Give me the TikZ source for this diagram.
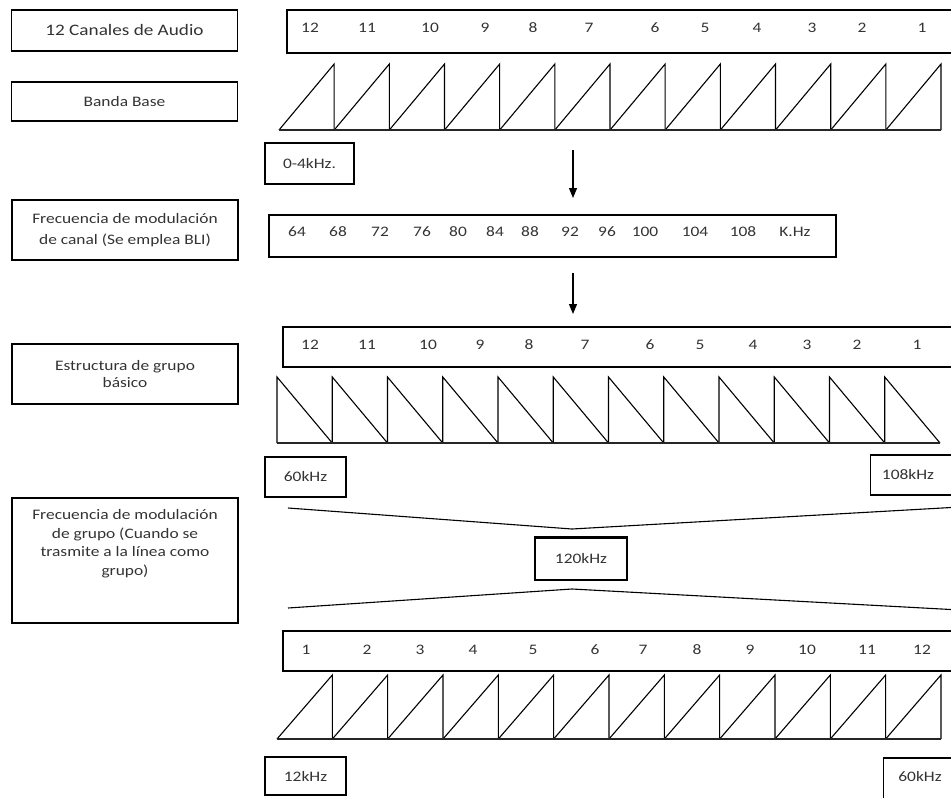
\documentclass[tikz,border=0pt]{standalone}
\usepackage{fontspec}
\setmainfont{Carlito}[FakeStretch=1.2]
\usetikzlibrary{arrows.meta, positioning, calc}

\begin{document}
\begin{tikzpicture}[x=1pt, y=-1pt,
    lbl/.style={draw, line width=1.2pt, minimum width=226pt, inner sep=2pt,
                align=center, font=\fontsize{14.5}{18.5}\selectfont, text=black!80},
    lbltxt/.style={align=center, font=\fontsize{14.5}{18.5}\selectfont, text=black!80},
    band/.style={draw, line width=1.2pt, inner sep=0pt},
    num/.style={font=\fontsize{14.5}{17}\selectfont, text=black!80, inner sep=1pt},
    fbox/.style={draw, line width=1.2pt, inner sep=2pt,
                 font=\fontsize{14.5}{17}\selectfont, text=black!80},
    tooth/.style={line width=1.1pt, line join=miter},
    base/.style={line width=1.5pt, black!85},
    flecha/.style={-{Triangle[length=10pt,width=8pt]}, line width=1.2pt},
    guia/.style={line width=1.1pt}
  ]
    \useasboundingbox (0,0) rectangle (951,798);
    \clip (0,0) rectangle (951,798);

    % left column
    \node[lbl, minimum height=41pt, font=\fontsize{16}{19}\selectfont] (audio) at (124.5,30.5) {12 Canales de Audio};
    \node[lbl, minimum height=39pt] (banda) at (124.5,101.5) {Banda Base};
    \node[lbl, minimum height=60pt, font=\fontsize{14.5}{21}\selectfont] (canal) at (125,230)
      {Frecuencia de modulación\\de canal (Se emplea BLI)};
    \node[lbl, minimum height=60pt, font=\fontsize{14.5}{17}\selectfont] (grupo) at (125,374)
      {Estructura de grupo\\básico};
    \node[lbl, minimum height=125pt] (modgrupo) at (125,560.5) {};
    \node[lbltxt] (modgrupotxt) at (125,543.5)
      {Frecuencia de modulación\\de grupo (Cuando se\\trasmite a la línea como\\grupo)};

    % band 1: audio channels
    \node[band, minimum width=683pt, minimum height=43pt] (canales) at (628.5,31.5) {};
    \foreach \n/\x in {12/310,11/367,10/430,9/485,8/533,7/589,6/655,5/705,4/757,3/812,2/862,1/922} {
      \node[num] (c\n) at (\x,28) {\n};
    }
    \foreach \i in {0,...,11} {
      \draw[tooth] ({279+\i*55.17},130) -- ({279+(\i+1)*55.17},64) -- ++(0,66);
    }
    \draw[base] (279,130) -- (941,130);
    \node[fbox, minimum width=89pt, minimum height=41pt] (f04) at (309.5,163.5) {0-4kHz.};

    \coordinate (a1) at (573,150);
    \coordinate (b1) at (573,198);
    \draw[flecha] (a1) -- (b1);

    % band 2: channel modulation frequencies
    \node[band, minimum width=567pt, minimum height=42pt] (frec) at (552.5,236) {};
    \foreach \f/\x in {64/297,68/338,72/380,76/422,80/458,84/495,88/530,92/570,96/607,100/645,104/695,108/743} {
      \node[num] (p\f) at (\x,232) {\f};
    }
    \node[num] (khz) at (795,232) {K.Hz};

    \coordinate (a2) at (573,273);
    \coordinate (b2) at (573,314);
    \draw[flecha] (a2) -- (b2);

    % band 3: basic group
    \node[band, minimum width=687pt, minimum height=40pt] (estr) at (626.5,347) {};
    \foreach \n/\x in {12/310,11/367,10/428,9/480,8/529,7/585,6/650,5/700,4/753,3/807,2/857,1/917} {
      \node[num] (g\n) at (\x,345) {\n};
    }
    \foreach \i in {0,...,11} {
      \draw[tooth] ({277+\i*55.25},443) -- ++(0,-66) -- ({277+(\i+1)*55.25},443);
    }
    \draw[base] (277,443) -- (940,443);
    \node[fbox, minimum width=81pt, minimum height=40pt] (f60) at (305.5,477) {60kHz};
    \node[fbox, minimum width=100pt, minimum height=40pt, anchor=west] (f108) at (870,475) {};
    \node[num] (f108txt) at (908,475) {108kHz};

    % group modulation
    \coordinate (sup1) at (288,508);
    \coordinate (sup2) at (572,529);
    \coordinate (sup3) at (960,507);
    \coordinate (inf1) at (288,608);
    \coordinate (inf2) at (572,589);
    \coordinate (inf3) at (960,610);
    \draw[guia] (sup1) -- (sup2) -- (sup3);
    \draw[guia] (inf1) -- (inf2) -- (inf3);
    \node[fbox, minimum width=92pt, minimum height=42pt] (f120) at (581,559) {120kHz};
    \draw[line width=2.6pt] (f120.north west) -- (f120.north east);

    % band 4: line group
    \node[band, minimum width=687pt, minimum height=40pt] (salida) at (626.5,651) {};
    \foreach \n/\x in {1/306,2/367,3/420,4/473,5/533,6/595,7/643,8/697,9/750,10/807,11/867,12/922} {
      \node[num] (s\n) at (\x,650) {\n};
    }
    \foreach \i in {0,...,11} {
      \draw[tooth] ({277+\i*55.33},739) -- ({277+(\i+1)*55.33},675) -- ++(0,64);
    }
    \draw[base] (277,739) -- (941,739);
    \node[fbox, minimum width=81pt, minimum height=38pt] (f12) at (305.5,776) {12kHz};
    \node[fbox, minimum width=90pt, minimum height=42pt, anchor=west] (f60b) at (883,779) {};
    \node[num] (f60btxt) at (920,777) {60kHz};
  \end{tikzpicture}
\end{document}
